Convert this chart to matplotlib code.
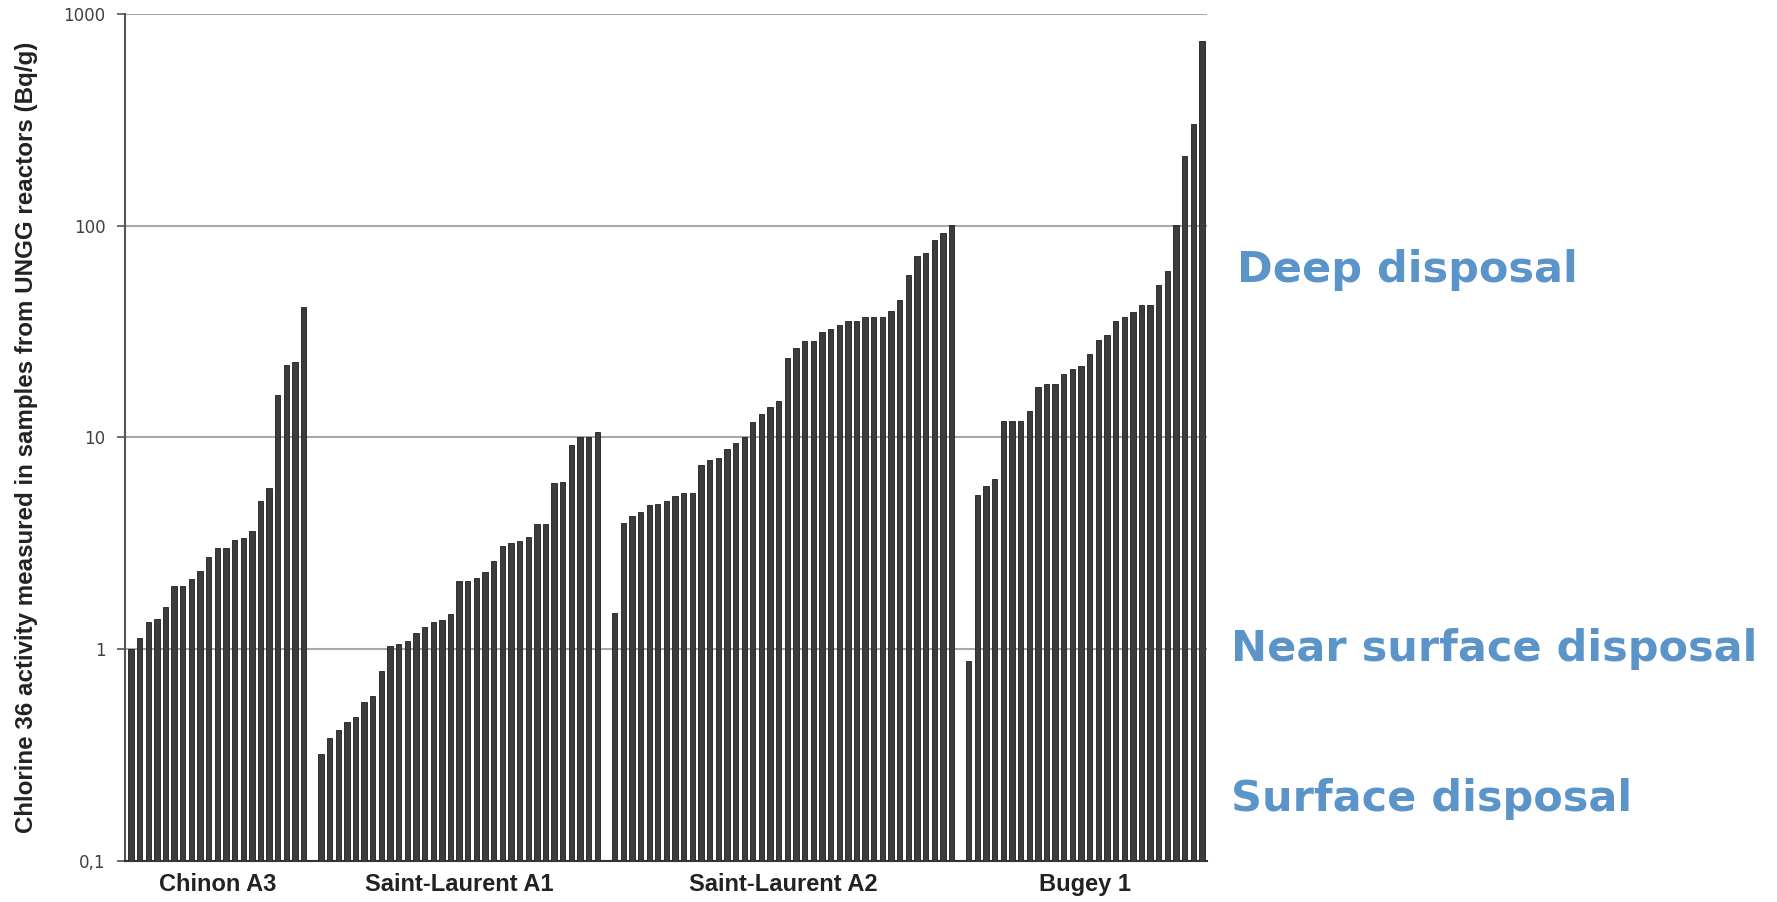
import numpy as np
import matplotlib
matplotlib.use("Agg")
import matplotlib.pyplot as plt

groups = ["Chinon A3", "Saint-Laurent A1", "Saint-Laurent A2", "Bugey 1"]

chinon_a3 = [1.0, 1.13, 1.34, 1.39, 1.59, 1.98, 1.98, 2.15, 2.33, 2.74, 3.0,
             3.0, 3.28, 3.34, 3.63, 5.03, 5.77, 15.9, 21.9, 22.7, 41.1]
st_laurent_a1 = [0.32, 0.38, 0.417, 0.451, 0.481, 0.562, 0.60, 0.79, 1.04,
                 1.06, 1.09, 1.19, 1.28, 1.35, 1.37, 1.46, 2.10, 2.10, 2.16,
                 2.32, 2.62, 3.06, 3.16, 3.26, 3.40, 3.89, 3.89, 6.07, 6.18,
                 9.2, 10.0, 10.0, 10.6]
st_laurent_a2 = [1.49, 3.95, 4.24, 4.44, 4.78, 4.85, 5.01, 5.28, 5.46, 5.46,
                 7.38, 7.82, 7.96, 8.81, 9.37, 10.0, 11.8, 12.9, 13.9, 14.8,
                 23.8, 26.4, 28.4, 28.7, 31.6, 32.5, 34.1, 35.6, 35.6, 37.2,
                 37.2, 37.2, 39.4, 44.4, 58.3, 71.6, 74.0, 85.5, 92.7, 101]
bugey_1 = [0.877, 5.33, 5.93, 6.35, 11.9, 11.9, 11.9, 13.4, 17.3, 17.9, 17.9,
           19.9, 21.0, 21.7, 24.7, 28.9, 30.4, 35.6, 36.9, 39.3, 42.4, 42.4,
           52.5, 61.0, 101, 213, 301, 743]

series = [chinon_a3, st_laurent_a1, st_laurent_a2, bugey_1]

yticks = [0.1, 1, 10, 100, 1000]
ytick_labels = ["0,1", "1", "10", "100", "1000"]

zones = ["Deep disposal", "Near surface disposal", "Surface disposal"]

fig = plt.figure(figsize=(17.77, 9.02), dpi=100)
ax = fig.add_axes([0.0703, 0.0455, 0.609, 0.939])

# one empty slot between reactor groups
pos = 0
centers = []
for vals in series:
    x = np.arange(pos, pos + len(vals))
    ax.bar(x, vals, width=0.62, color="#3c3c3c",
           edgecolor="#1e1e1e", linewidth=0.6, zorder=3)
    centers.append((x[0] + x[-1]) / 2)
    pos += len(vals) + 1

ax.set_yscale("log")
ax.set_ylim(0.1, 1000)
ax.set_xlim(-0.7, pos - 1.4)
ax.set_yticks(yticks)
ax.set_yticklabels(ytick_labels, fontsize=12, color="#404040")
ax.yaxis.set_minor_locator(matplotlib.ticker.NullLocator())
ax.tick_params(axis="y", length=6, width=1.2, color="#555555", pad=8)
ax.grid(axis="y", color="#a8a8a8", linewidth=1.5, zorder=0)

ax.set_xticks(centers)
ax.set_xticklabels(groups, fontsize=17, fontweight="bold",
                   family="Liberation Sans", color="#222222")
ax.tick_params(axis="x", length=0, pad=9)

for s in ["top", "right"]:
    ax.spines[s].set_visible(False)
ax.spines["left"].set_color("#555555")
ax.spines["left"].set_linewidth(1.5)
ax.spines["bottom"].set_color("#333333")
ax.spines["bottom"].set_linewidth(1.5)

ax.set_ylabel("Chlorine 36 activity measured in samples from UNGG reactors (Bq/g)",
              fontsize=17.4, fontweight="bold", family="Liberation Sans",
              color="#222222", labelpad=18)

blue = "#5b94c9"
ax.text(1.028, 0.698, zones[0], transform=ax.transAxes, fontsize=31,
        fontweight="bold", color=blue, va="center", ha="left")
ax.text(1.022, 0.25, zones[1], transform=ax.transAxes, fontsize=31,
        fontweight="bold", color=blue, va="center", ha="left")
ax.text(1.022, 0.073, zones[2], transform=ax.transAxes, fontsize=31,
        fontweight="bold", color=blue, va="center", ha="left")

plt.savefig("out.png", dpi=100)
plt.close()
